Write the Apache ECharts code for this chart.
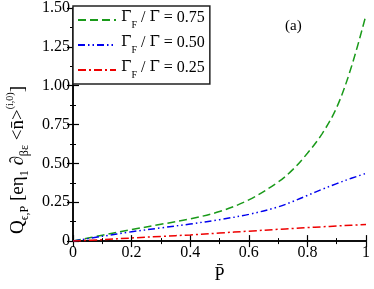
<!DOCTYPE html>
<html><head><meta charset="utf-8">
<script src="https://cdn.jsdelivr.net/npm/echarts@6/dist/echarts.min.js"></script>
<style>html,body{margin:0;padding:0;background:#fff}#c{width:374px;height:289px}</style>
</head><body><div id="c"></div>
<script>
const P = [0, 0.1, 0.2, 0.3, 0.4, 0.5, 0.6, 0.7, 0.75, 0.8, 0.85, 0.9, 0.95, 1.0];
const q075 = [0, 0.038, 0.074, 0.108, 0.143, 0.19, 0.265, 0.38, 0.46, 0.565, 0.69, 0.86, 1.12, 1.455];
const q050 = [0, 0.031, 0.06, 0.085, 0.11, 0.138, 0.172, 0.22, 0.255, 0.294, 0.333, 0.37, 0.404, 0.436];
const q025 = [0, 0.009, 0.02, 0.03, 0.04, 0.052, 0.064, 0.076, 0.081, 0.087, 0.092, 0.097, 0.102, 0.107];
const ratios = ['0.75', '0.50', '0.25'];
const xTicks = ['0', '0.2', '0.4', '0.6', '0.8', '1'];
const yTicks = ['0', '0.25', '0.50', '0.75', '1.00', '1.25', '1.50'];

const F = 'Liberation Serif';
const chart = echarts.init(document.getElementById('c'));
const pts = arr => P.map((p, i) => [p, arr[i]]);
const names = ratios.map(r => 'G' + r);
const styles = [
  {color: '#1a9a1a', type: [8, 4]},
  {color: '#0000ee', type: [7, 3, 1.5, 3, 1.5, 3]},
  {color: '#ee0000', type: [8, 3, 2, 3]}
];
const data = [q075, q050, q025];
const series = data.map((d, i) => ({
  name: names[i], type: 'line', data: pts(d), smooth: 0.35, symbol: 'none',
  xAxisIndex: 0, yAxisIndex: 0,
  lineStyle: {color: styles[i].color, width: 1.5, type: styles[i].type},
  itemStyle: {color: styles[i].color}
}));
const tickLabelStyle = {fontFamily: F, fontSize: 16, color: '#000'};
const axisCommon = {
  min: 0, axisLine: {show: true, lineStyle: {color: '#000', width: 1.5}},
  axisTick: {show: true, inside: true, length: 6, lineStyle: {color: '#000', width: 1.2}},
  minorTick: {show: true, splitNumber: 2, length: 3, lineStyle: {color: '#000', width: 1}},
  splitLine: {show: false}
};
chart.setOption({
  animation: false,
  grid: {left: 73, right: 8, top: 6, bottom: 44},
  legend: {
    orient: 'vertical', left: 73, top: 6, data: names,
    backgroundColor: '#fff', borderColor: '#222', borderWidth: 1.5,
    padding: [4, 5, 4, 4], itemGap: 5, itemWidth: 38, itemHeight: 14,
    itemStyle: {opacity: 0},
    formatter: n => '{g|Γ\u0304}{s|F}{t| / }{g|Γ\u0304}{t| = ' + n.slice(1) + '}',
    textStyle: {
      rich: {
        g: {fontFamily: 'DejaVu Serif', fontSize: 15, color: '#000', lineHeight: 20, verticalAlign: 'top'},
        t: {fontFamily: F, fontSize: 16, color: '#000', lineHeight: 20, verticalAlign: 'top'},
        s: {fontFamily: F, fontSize: 10, color: '#000', lineHeight: 20, verticalAlign: 'bottom'}
      }
    }
  },
  xAxis: [
    Object.assign({}, axisCommon, {
      type: 'value', max: 1, interval: 0.2, position: 'bottom',
      axisLabel: Object.assign({}, tickLabelStyle, {margin: 4,
        formatter: v => xTicks[Math.round(v / 0.2)]}),
      name: 'P\u0304', nameLocation: 'middle', nameGap: 24,
      nameTextStyle: {fontFamily: F, fontSize: 18, color: '#000'}
    }),
    Object.assign({}, axisCommon, {
      type: 'value', max: 1, interval: 0.2, position: 'top', axisLabel: {show: false}
    })
  ],
  yAxis: [
    Object.assign({}, axisCommon, {
      type: 'value', max: 1.5, interval: 0.25, position: 'left',
      axisLabel: Object.assign({}, tickLabelStyle, {margin: 3,
        formatter: v => yTicks[Math.round(v / 0.25)]})
    }),
    Object.assign({}, axisCommon, {
      type: 'value', max: 1.5, interval: 0.25, position: 'right', axisLabel: {show: false}
    })
  ],
  graphic: [
    {type: 'text', left: 285, top: 19,
      style: {text: '(a)', font: '15px "Liberation Serif"', fill: '#000'}},
    {type: 'text', x: 18, y: 160, rotation: Math.PI / 2,
      style: {
        text: '{m|Q}{s|ϵ,P}{m| [eη}{s|1}{m| ∂}{s|βε}{m| <n\u0304>}{u|(i,0)}{m|]}',
        align: 'center', verticalAlign: 'middle',
        rich: {
          m: {fontFamily: F, fontSize: 19, fill: '#000', lineHeight: 26, verticalAlign: 'middle'},
          s: {fontFamily: F, fontSize: 12, fill: '#000', lineHeight: 26, verticalAlign: 'bottom'},
          u: {fontFamily: F, fontSize: 10, fill: '#000', lineHeight: 26, verticalAlign: 'top'}
        }
      }}
  ],
  series: series
});
</script></body></html>
